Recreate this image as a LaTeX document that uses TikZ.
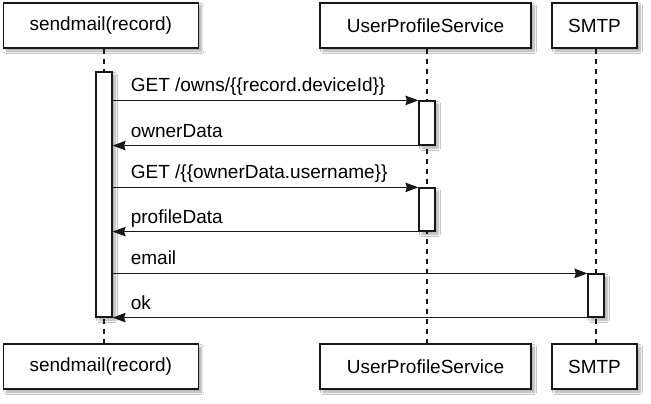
\documentclass[tikz,border=0pt]{standalone}
\usepackage{fontspec}
\setmainfont{Liberation Sans}
\usetikzlibrary{arrows.meta,shadows.blur}
\definecolor{edge}{HTML}{181818}
\begin{document}
\begin{tikzpicture}[x=1pt,y=-1pt,
  shad/.style={blur shadow={shadow xshift=3pt,shadow yshift=-3pt,shadow blur radius=2.5pt,shadow blur steps=6,shadow opacity=35}},
  participant/.style={draw=edge,line width=1.2pt,fill=white,minimum height=45pt,inner sep=0pt,
    font=\fontsize{19}{22}\selectfont,shad},
  actbar/.style={draw=edge,line width=1.2pt,fill=white,minimum width=16pt,inner sep=0pt,shad},
  lifeline/.style={draw=edge,line width=1.5pt,dash pattern=on 5pt off 5pt},
  msg/.style={draw=edge,line width=1.1pt,-{Stealth[length=13pt,width=9.5pt,inset=1.5pt]}},
  msglabel/.style={anchor=base west,inner sep=0pt,font=\fontsize{19}{22}\selectfont}
]
\useasboundingbox (0,0) rectangle (651,404);
\fill[white] (0,0) rectangle (651,404);

% participants top
\node[participant,minimum width=195pt] (s1) at (100.8,25.5) {sendmail(record)};
\node[participant,minimum width=211pt] (u1) at (425.5,25.5) {UserProfileService};
\node[participant,minimum width=85pt] (m1) at (594.5,25.5) {SMTP};
% participants bottom
\node[participant,minimum width=195pt] (s2) at (100.8,366.5) {sendmail(record)};
\node[participant,minimum width=211pt] (u2) at (425.5,366.5) {UserProfileService};
\node[participant,minimum width=85pt] (m2) at (594.5,366.5) {SMTP};

% lifelines
\coordinate (ls1) at ([xshift=3.2pt]s1.south);
\coordinate (ls2) at ([xshift=3.2pt]s2.north);
\coordinate (lu1) at ([xshift=1.5pt]u1.south);
\coordinate (lu2) at ([xshift=1.5pt]u2.north);
\coordinate (lm1) at ([xshift=1.5pt]m1.south);
\coordinate (lm2) at ([xshift=1.5pt]m2.north);
\draw[lifeline] (ls1) -- (ls2);
\draw[lifeline] (lu1) -- (lu2);
\draw[lifeline] (lm1) -- (lm2);

% activation bars
\node[actbar,minimum height=245pt] (a1) at (104,194.5) {};
\node[actbar,minimum height=44pt] (a2) at (427,123) {};
\node[actbar,minimum height=43pt] (a3) at (427,209.5) {};
\node[actbar,minimum height=43pt] (a4) at (596,295.5) {};

% messages
\draw[msg] (a1.east |- a2.north west) -- (a2.north west);
\node[msglabel] (t1) at ([xshift=18pt,yshift=8.5pt]a1.east |- a2.north west) {GET /owns/\{\{record.deviceId\}\}};
\draw[msg] (a2.south west) -- (a1.east |- a2.south west);
\node[msglabel] (t2) at ([xshift=18pt,yshift=8.5pt]a1.east |- a2.south west) {ownerData};
\draw[msg] (a1.east |- a3.north west) -- (a3.north west);
\node[msglabel] (t3) at ([xshift=18pt,yshift=8.5pt]a1.east |- a3.north west) {GET /\{\{ownerData.username\}\}};
\draw[msg] (a3.south west) -- (a1.east |- a3.south west);
\node[msglabel] (t4) at ([xshift=18pt,yshift=8.5pt]a1.east |- a3.south west) {profileData};
\draw[msg] (a1.east |- a4.north west) -- (a4.north west);
\node[msglabel] (t5) at ([xshift=18pt,yshift=8.5pt]a1.east |- a4.north west) {email};
\draw[msg] (a4.south west) -- (a1.east |- a4.south west);
\node[msglabel] (t6) at ([xshift=18pt,yshift=8.5pt]a1.east |- a4.south west) {ok};
\end{tikzpicture}
\end{document}
